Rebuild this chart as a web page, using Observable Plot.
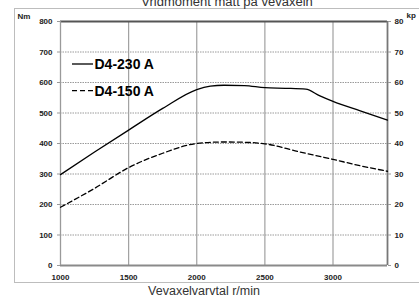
<!DOCTYPE html>
<html><head><meta charset="utf-8">
<script src="https://cdn.jsdelivr.net/npm/d3@7"></script>
<script src="https://cdn.jsdelivr.net/npm/@observablehq/plot@0.6"></script>
<style>
html,body{margin:0;padding:0;background:#fff;overflow:hidden}
#wrap{position:relative;width:419px;height:299px}
#box{position:absolute;left:14px;top:8px;width:420px;height:275px;border:1px solid #bdbdbd;box-sizing:border-box}
#wrap svg{position:absolute;left:0;top:0}
</style></head><body>
<div id="wrap"><div id="box"></div></div>
<script>
const rpm230 = [1000,1250,1500,1750,2000,2100,2200,2350,2500,2650,2800,2900,3000,3200,3400];
const nm230  = [298,372,444,515,577,588,591,590,583,581,578,557,538,507,477];
const rpm150 = [1000,1250,1500,1750,2000,2200,2350,2500,2750,3000,3200,3400];
const nm150  = [191,253,321,368,400,405,404,399,373,348,327,309];
const seriesNames = ["D4-230 A","D4-150 A"];
const xTicks = [1000,1500,2000,2500,3000];
const yTicks = [0,100,200,300,400,500,600,700,800];
const title = "Vridmoment mätt på vevaxeln";
const xLabel = "Vevaxelvarvtal r/min";

const d230 = rpm230.map((x,i)=>({x, y:nm230[i]}));
const d150 = rpm150.map((x,i)=>({x, y:nm150[i]}));
const font = "'Liberation Sans', Arial, sans-serif";

const chart = Plot.plot({
  width: 419, height: 299,
  marginLeft: 60, marginRight: 32, marginTop: 21, marginBottom: 34,
  style: {fontFamily: font, background: "transparent", overflow: "visible"},
  x: {domain: [1000, 3400]},
  y: {domain: [0, 800]},
  marks: [
    Plot.gridY(yTicks.filter(d=>d>0 && d<800), {stroke:"#9a9a9a", strokeOpacity:1, strokeDasharray:"1.5,1", strokeWidth:1}),
    Plot.gridX(xTicks.filter(d=>d>1000), {stroke:"#a0a0a0", strokeOpacity:1, strokeWidth:1.2}),
    Plot.ruleY([800], {stroke:"#555", strokeWidth:1.8}),
    Plot.ruleY([0], {stroke:"#8a8a8a", strokeWidth:1.8}),
    Plot.ruleX([1000], {stroke:"#9a9a9a", strokeWidth:1.3}),
    Plot.ruleX([3400], {stroke:"#777", strokeWidth:1.8}),
    Plot.axisX({ticks: xTicks, tickSize: 0, tickPadding: 9, tickFormat: d=>String(d), fontWeight:"bold", fontSize: 8, label: null, fill:"#222"}),
    Plot.axisY({ticks: yTicks, tickSize: 3, tickPadding: 5, fontWeight:"bold", fontSize: 8, label: null, stroke:"#999", fill:"#222"}),
    Plot.axisY({anchor:"right", ticks: yTicks, tickSize: 3, tickPadding: 4, tickFormat: d=>d/10, fontWeight:"bold", fontSize: 8, label: null, stroke:"#999", fill:"#222"}),
    Plot.line(d230, {x:"x", y:"y", curve:"monotone-x", stroke:"#000", strokeWidth:1.3}),
    Plot.line(d150, {x:"x", y:"y", curve:"monotone-x", stroke:"#000", strokeWidth:1.3, strokeDasharray:"5,3"}),
    Plot.text([title], {frameAnchor:"top", dy:-16, dx:3, lineAnchor:"bottom", textAnchor:"middle", fontSize:13, fill:"#333"}),
    Plot.text([xLabel], {frameAnchor:"bottom", dy:25, dx:-20, lineAnchor:"middle", textAnchor:"middle", fontSize:12.5, fill:"#333"}),
    Plot.text(["Nm"], {frameAnchor:"top-left", dx:-43, dy:-5, lineAnchor:"middle", textAnchor:"start", fontSize:8, fontWeight:"bold", fill:"#222"}),
    Plot.text(["kp"], {frameAnchor:"top-right", dx:19, dy:-6, lineAnchor:"middle", textAnchor:"start", fontSize:8, fontWeight:"bold", fill:"#222"}),
    // legend
    Plot.text([seriesNames[0]], {frameAnchor:"top-left", dx:34, dy:43, lineAnchor:"middle", textAnchor:"start", fontSize:14, fontWeight:"bold", fill:"#000"}),
    Plot.text([seriesNames[1]], {frameAnchor:"top-left", dx:34, dy:70, lineAnchor:"middle", textAnchor:"start", fontSize:14, fontWeight:"bold", fill:"#000"})
  ]
});
const svg = chart;
document.getElementById("wrap").appendChild(svg);
// legend line samples
const ns = "http://www.w3.org/2000/svg";
[[64,null],[90.7,"5,3"]].forEach(([y,dash])=>{
  const l = document.createElementNS(ns,"line");
  l.setAttribute("x1",72); l.setAttribute("x2",93);
  l.setAttribute("y1",y); l.setAttribute("y2",y);
  l.setAttribute("stroke","#000"); l.setAttribute("stroke-width","1.3");
  if (dash) l.setAttribute("stroke-dasharray",dash);
  svg.appendChild(l);
});
</script>
</body></html>
